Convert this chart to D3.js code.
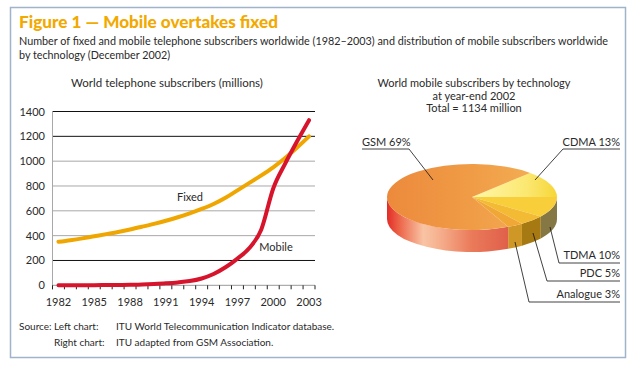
<!DOCTYPE html>
<html><head><meta charset="utf-8">
<script src="https://cdn.jsdelivr.net/npm/d3@7"></script>
<style>
body{margin:0;background:#fff}
svg{display:block}
text{font-family:Lato,"Open Sans",sans-serif;fill:#2a2a2a}
</style>
</head><body>
<svg id="c" width="636" height="369"></svg>
<script>
// ---------- data ----------
const years = [1982,1983,1984,1985,1986,1987,1988,1989,1990,1991,1992,1993,1994,1995,1996,1997,1998,1999,2000,2001,2002,2003];
const fixedValues  = [350,363,378,395,412,430,450,472,495,520,548,580,615,655,705,765,825,885,950,1025,1110,1200];
const mobileValues = [1,1,1,1,2,3,4,7,11,16,23,34,55,91,145,215,300,450,780,980,1160,1330];
const yTicks = [0,200,400,600,800,1000,1200,1400];
const yTickLabels = ["0","200","400","600","800","1000","1200","1400"];
const darkGrid = [200,1200,1400];
const xTickLabels = ["1982","1985","1988","1991","1994","1997","2000","2003"];

const techNames  = ["CDMA","TDMA","PDC","Analogue","GSM"];
const techShares = [13,10,5,3,69];
const techLabels = ["CDMA 13%","TDMA 10%","PDC 5%","Analogue 3%","GSM 69%"];

// ---------- setup ----------
const svg = d3.select("#c");
const defs = svg.append("defs");

svg.append("rect").attr("x",10.5).attr("y",7.5).attr("width",615).attr("height",350)
  .attr("fill","#fff").attr("stroke","#9fb4ca").attr("stroke-width",1.5);

svg.append("text").attr("x",19).attr("y",28).attr("font-size",16).attr("font-weight",900)
  .style("fill","#f2a900").attr("textLength",259).attr("lengthAdjust","spacingAndGlyphs")
  .text("Figure 1 \u2014 Mobile overtakes fixed");
svg.append("text").attr("x",19).attr("y",45).attr("font-size",10.5)
  .attr("textLength",589).attr("lengthAdjust","spacingAndGlyphs")
  .text("Number of fixed and mobile telephone subscribers worldwide (1982\u20132003) and distribution of mobile subscribers worldwide");
svg.append("text").attr("x",19).attr("y",59).attr("font-size",10.5)
  .attr("textLength",151).attr("lengthAdjust","spacingAndGlyphs")
  .text("by technology (December 2002)");

// ---------- left chart ----------
const x = d3.scaleBand().domain(years).range([52.5,315]).padding(0);
const y = d3.scaleLinear().domain([0,1400]).range([285.3,111.5]);
const cx = d => x(d) + x.bandwidth()/2;

svg.append("text").attr("x",167).attr("y",87).attr("font-size",11.5).attr("text-anchor","middle")
  .text("World telephone subscribers (millions)");

const g = svg.append("g");
g.selectAll("line.grid").data(yTicks.filter(t=>t>0)).join("line")
  .attr("x1",52.5).attr("x2",315).attr("y1",d=>y(d)).attr("y2",d=>y(d))
  .attr("stroke",d=>darkGrid.includes(d)?"#111":"#a8a8a8").attr("stroke-width",1);
g.append("line").attr("x1",52.5).attr("x2",52.5).attr("y1",y(1400)).attr("y2",y(0)+4).attr("stroke","#a8a8a8");
g.append("line").attr("x1",52.5).attr("x2",315).attr("y1",y(0)).attr("y2",y(0)).attr("stroke","#999");
const tickXs = years.map(d=>x(d)).concat([x.range()[1]]);
g.selectAll("line.tk").data(tickXs).join("line")
  .attr("x1",d=>d).attr("x2",d=>d).attr("y1",y(0)).attr("y2",y(0)+4).attr("stroke","#222");
g.selectAll("text.yl").data(yTicks).join("text")
  .attr("x",45).attr("y",d=>y(d)+4).attr("text-anchor","end").attr("font-size",11)
  .text((d,i)=>yTickLabels[i]);
g.selectAll("text.xl").data(xTickLabels).join("text")
  .attr("x",d=>cx(+d)).attr("y",306).attr("text-anchor","middle").attr("font-size",11)
  .text(d=>d);

const line = d3.line().curve(d3.curveMonotoneX);
g.append("path").attr("d",line(years.map((d,i)=>[cx(d),y(fixedValues[i])])))
  .attr("fill","none").attr("stroke","#f0a600").attr("stroke-width",4).attr("stroke-linecap","round");
g.append("path").attr("d",line(years.map((d,i)=>[cx(d),y(mobileValues[i])])))
  .attr("fill","none").attr("stroke","#d6142c").attr("stroke-width",4).attr("stroke-linecap","round");
g.append("text").attr("x",190).attr("y",201).attr("font-size",11).attr("text-anchor","middle").text("Fixed");
g.append("text").attr("x",276).attr("y",251).attr("font-size",11).attr("text-anchor","middle").text("Mobile");

// ---------- right chart (3D pie) ----------
[["World mobile subscribers by technology",87],["at year-end 2002",100],["Total = 1134 million",112]]
  .forEach(([t,yy])=>svg.append("text").attr("x",474).attr("y",yy).attr("font-size",11)
    .attr("text-anchor","middle").text(t));

const P = {cx:472, cy:197, rx:85, ry:33, depth:22};
const pt = (a,dy=0)=>[P.cx + P.rx*Math.sin(a), P.cy - P.ry*Math.cos(a) + dy];
const start = Math.PI/2 - techShares[0]/100*2*Math.PI;
const arcs = d3.pie().sort(null).startAngle(start).endAngle(start+2*Math.PI)(techShares);

const topFill = ["url(#gCdma)","#f8cf3a","#f3bb34","#f1a736","url(#gGsmTop)"];
const sideFill = ["#c9a030","#857845","#a67912","#cf9826","url(#gGsmSide)"];

function lg(id, x1, x2, stops){
  const gr = defs.append("linearGradient").attr("id",id).attr("gradientUnits","userSpaceOnUse")
    .attr("x1",x1).attr("x2",x2).attr("y1",0).attr("y2",0);
  stops.forEach(([o,c])=>gr.append("stop").attr("offset",o).attr("stop-color",c));
}
lg("gGsmSide",387,508,[[0,"#e22c28"],[0.1,"#ec6448"],[0.3,"#f9c4a4"],[0.42,"#f6b290"],[0.7,"#ea7a5a"],[1,"#e0604a"]]);
lg("gGsmTop",387,557,[[0,"#ec8a3c"],[0.5,"#f09c46"],[1,"#f4b458"]]);
lg("gCdma",480,557,[[0,"#fff4a0"],[0.6,"#fbe872"],[1,"#f6d638"]]);

const pg = svg.append("g");
arcs.forEach((d,i)=>{
  const s = Math.max(d.startAngle, Math.PI/2), e = Math.min(d.endAngle, 3*Math.PI/2);
  if (e <= s) return;
  const [x0,y0]=pt(s), [x1,y1]=pt(e), [x2,y2]=pt(e,P.depth), [x3,y3]=pt(s,P.depth);
  pg.append("path").attr("d",`M${x0},${y0}A${P.rx},${P.ry} 0 0 1 ${x1},${y1}L${x2},${y2}A${P.rx},${P.ry} 0 0 0 ${x3},${y3}Z`)
    .attr("fill",sideFill[i]);
});
arcs.forEach((d,i)=>{
  const [x0,y0]=pt(d.startAngle), [x1,y1]=pt(d.endAngle);
  const large = d.endAngle - d.startAngle > Math.PI ? 1 : 0;
  pg.append("path").attr("d",`M${P.cx},${P.cy}L${x0},${y0}A${P.rx},${P.ry} 0 ${large} 1 ${x1},${y1}Z`)
    .attr("fill",topFill[i]);
});

const leaders = [
  {pts:[[535,180],[563,149],[620,149]], tx:620, ty:146, anchor:"end"},
  {pts:[[550,227],[559,263],[620,263]], tx:620, ty:259, anchor:"end"},
  {pts:[[533,233],[547,281],[620,281]], tx:620, ty:277, anchor:"end"},
  {pts:[[515,242],[529,302],[620,302]], tx:620, ty:298, anchor:"end"},
  {pts:[[433,180],[409,149],[362,149]], tx:362, ty:146, anchor:"start"}
];
leaders.forEach((l,i)=>{
  pg.append("path").attr("d",d3.line()(l.pts)).attr("fill","none").attr("stroke","#111").attr("stroke-width",0.8);
  pg.append("text").attr("x",l.tx).attr("y",l.ty).attr("font-size",11).attr("text-anchor",l.anchor).text(techLabels[i]);
});

// ---------- source ----------
const src = [
  ["Source:",19,330],["Left chart:",54,330],["ITU World Telecommunication Indicator database.",116,330],
  ["Right chart:",54,346],["ITU adapted from GSM Association.",116,346]
];
src.forEach(([t,xx,yy])=>svg.append("text").attr("x",xx).attr("y",yy).attr("font-size",10).text(t));
</script>
</body></html>
